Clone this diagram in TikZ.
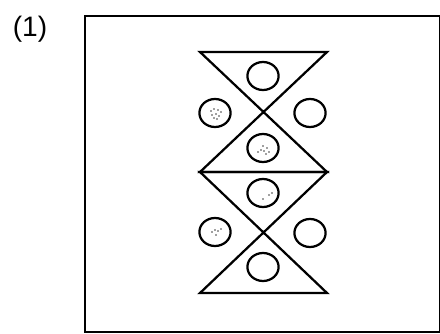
\documentclass[tikz,border=0pt]{standalone}
\usepackage{fontspec}
\setmainfont{Liberation Sans}
\usetikzlibrary{shapes.geometric}

\begin{document}
\begin{tikzpicture}[x=0.025cm,y=-0.025cm,line width=1.6pt,
  ring/.style={draw,ellipse,minimum width=0.78cm,minimum height=0.7cm,inner sep=0pt},
  speck/.style={fill=black!75,draw=none,circle,inner sep=0pt,minimum size=1.1pt}]
\useasboundingbox (0,0) rectangle (440,334);
\node[font=\fontsize{20}{24}\selectfont] (label) at (30,29) {(1)};
\draw[line width=1.6pt] (85,16) rectangle (440,332);
% two hourglasses, one on top of the other
\coordinate (tl) at (200,52);
\coordinate (tr) at (327,52);
\coordinate (ml) at (200,172);
\coordinate (mr) at (327,172);
\coordinate (bl) at (200,293);
\coordinate (br) at (327,293);
\draw[line join=miter] (tl)--(tr)--(ml)--(mr)--cycle;
\draw[line join=miter] (ml)--(mr)--(bl)--(br)--cycle;
% circles
\node[ring] (uptop) at (263,76) {};
\node[ring] (upleft) at (215,113) {};
\node[ring] (upright) at (310,113) {};
\node[ring] (upbot) at (263,148) {};
\node[ring] (lotop) at (263,193) {};
\node[ring] (loleft) at (215,232) {};
\node[ring] (loright) at (310,233) {};
\node[ring] (lobot) at (263,267) {};
% specks
\foreach \p in {(211,111),(214,109),(218,110),(221,112),(212,115),(216,114),(219,116),(214,118),(217,119)}
  \node[speck] at \p {};
\foreach \p in {(258,152),(261,150),(264,151),(267,148),(269,152),(266,154),(263,146)}
  \node[speck] at \p {};
\foreach \p in {(269,195),(272,193),(263,199)}
  \node[speck] at \p {};
\foreach \p in {(212,232),(215,230),(218,231),(221,229),(216,235)}
  \node[speck] at \p {};
\end{tikzpicture}
\end{document}
